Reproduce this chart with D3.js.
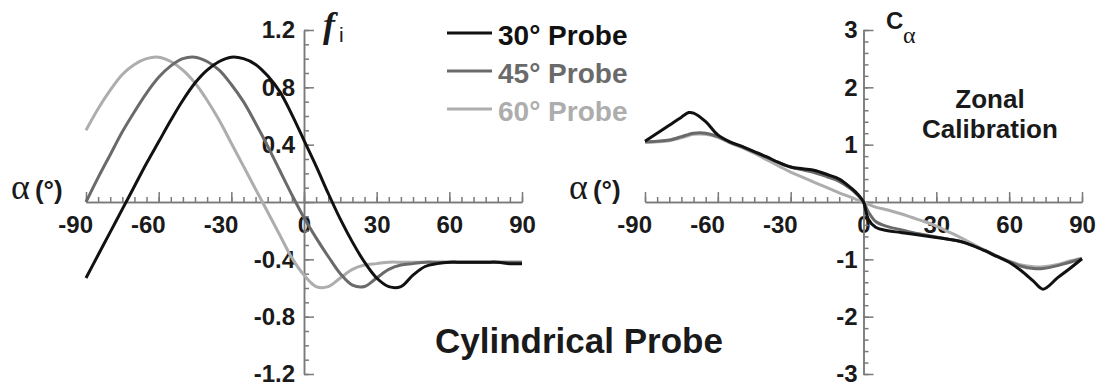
<!DOCTYPE html>
<html>
<head>
<meta charset="utf-8">
<script src="https://cdn.jsdelivr.net/npm/d3@7"></script>
<style>
  html, body { margin: 0; padding: 0; background: #fff; }
  svg { display: block; }
</style>
</head>
<body>
<script>
// -------------------- DATA --------------------
// left panel: f_i vs alpha (deg)
var alphaF = [-90,-85,-80,-75,-70,-65,-60,-55,-50,-45,-40,-35,-30,-25,-20,-15,-10,-5,0,
              5,10,15,20,25,30,35,40,45,50,55,60,65,70,75,80,85,90];
var f30 = [-0.53,-0.37,-0.21,-0.05,0.11,0.27,0.42,0.57,0.71,0.83,0.92,0.98,1.01,1.00,0.96,0.88,0.77,0.61,0.43,
           0.25,0.06,-0.12,-0.28,-0.42,-0.53,-0.59,-0.59,-0.51,-0.45,-0.43,-0.42,-0.42,-0.42,-0.42,-0.42,-0.43,-0.43];
var f45 = [0.00,0.17,0.33,0.49,0.63,0.76,0.87,0.95,1.00,1.01,0.98,0.92,0.82,0.70,0.55,0.39,0.22,0.05,-0.11,
           -0.25,-0.38,-0.50,-0.58,-0.59,-0.53,-0.47,-0.44,-0.43,-0.42,-0.42,-0.42,-0.42,-0.42,-0.42,-0.42,-0.42,-0.42];
var f60 = [0.50,0.65,0.78,0.89,0.96,1.00,1.01,0.98,0.92,0.83,0.71,0.57,0.41,0.25,0.09,-0.07,-0.23,-0.39,-0.51,
           -0.59,-0.59,-0.53,-0.47,-0.44,-0.43,-0.42,-0.42,-0.42,-0.42,-0.42,-0.42,-0.42,-0.42,-0.42,-0.42,-0.42,-0.42];

// right panel: C_alpha vs alpha (deg)
var alphaC = [-90,-85,-80,-75,-72,-70,-65,-60,-55,-50,-45,-40,-35,-30,-25,-20,-15,-10,-5,-2,0,
              2,5,10,15,20,25,30,35,40,45,50,55,60,65,70,74,80,85,90];
var c30 = [1.06,1.20,1.34,1.48,1.56,1.55,1.40,1.17,1.05,0.97,0.88,0.79,0.69,0.61,0.58,0.55,0.48,0.40,0.24,0.12,0.00,
           -0.30,-0.44,-0.50,-0.53,-0.56,-0.59,-0.62,-0.65,-0.69,-0.76,-0.85,-0.95,-1.05,-1.20,-1.38,-1.52,-1.32,-1.16,-0.99];
var c45 = [1.05,1.06,1.08,1.14,1.18,1.20,1.20,1.14,1.04,0.96,0.87,0.78,0.69,0.61,0.56,0.51,0.44,0.36,0.22,0.10,0.00,
           -0.17,-0.34,-0.43,-0.48,-0.53,-0.57,-0.61,-0.65,-0.69,-0.76,-0.85,-0.95,-1.04,-1.12,-1.16,-1.16,-1.11,-1.05,-0.99];
var c60 = [1.04,1.05,1.07,1.12,1.16,1.18,1.18,1.13,1.03,0.95,0.85,0.74,0.63,0.52,0.43,0.34,0.25,0.16,0.08,0.03,0.00,
           -0.04,-0.09,-0.14,-0.20,-0.27,-0.34,-0.42,-0.52,-0.62,-0.73,-0.84,-0.94,-1.03,-1.10,-1.13,-1.13,-1.09,-1.03,-0.98];

var probeNames = ["30°", "45°", "60°"];

var xTicks = [-90, -60, -30, 0, 30, 60, 90];
var fTicks = [-1.2, -0.8, -0.4, 0.4, 0.8, 1.2];
var cTicks = [-3, -2, -1, 1, 2, 3];

// -------------------- STYLE --------------------
var probeColors = ["#111111", "#6a6a6a", "#adadad"];
var axisColor = "#7a7a7a";
var textColor = "#1a1a1a";
var sans = "'Liberation Sans', Arial, sans-serif";
var serif = "'Liberation Serif', 'Times New Roman', serif";

// -------------------- SVG --------------------
var w = 1099, h = 387;
var svg = d3.select("body").append("svg")
  .attr("width", w)
  .attr("height", h);

svg.append("rect").attr("width", w).attr("height", h).attr("fill", "#fff");

// -------------------- SCALES --------------------
var xL = d3.scaleLinear().domain([-90, 90]).range([86, 522]);
var yL = d3.scaleLinear().domain([-1.2, 1.2]).range([374, 30]);
var xR = d3.scaleLinear().domain([-90, 90]).range([645, 1082]);
var yR = d3.scaleLinear().domain([-3, 3]).range([374, 30]);

// -------------------- AXES --------------------
function styleAxis(g) {
  g.selectAll(".domain, line")
    .attr("stroke", axisColor)
    .attr("stroke-width", 1.5);
  g.selectAll("text")
    .attr("fill", textColor)
    .style("font-family", sans)
    .style("font-weight", "bold")
    .style("font-size", "24px");
}

function drawAxes(x, y, yTicks, yMinor, yPad) {
  var x0 = x(0), y0 = y(0);

  // x minor ticks (every 5 deg), pointing up
  svg.append("g")
    .attr("transform", "translate(0," + y0 + ")")
    .call(d3.axisBottom(x).tickValues(d3.range(-90, 91, 5)).tickSize(-5).tickSizeOuter(0).tickFormat(""))
    .call(styleAxis);

  // x major ticks + labels
  var gx = svg.append("g")
    .attr("transform", "translate(0," + y0 + ")")
    .call(d3.axisBottom(x).tickValues(xTicks).tickSize(-10).tickSizeOuter(0).tickPadding(14)
      .tickFormat(function(d){ return String(d); }))
    .call(styleAxis);
  // negative labels hang to the left like the original
  gx.selectAll(".tick text")
    .filter(function(d){ return d < 0; })
    .attr("text-anchor", "end")
    .attr("x", 6.5);

  // y minor ticks, pointing right
  svg.append("g")
    .attr("transform", "translate(" + x0 + ",0)")
    .call(d3.axisLeft(y).tickValues(yMinor).tickSize(-5).tickSizeOuter(0).tickFormat(""))
    .call(styleAxis);

  // y major ticks + labels
  svg.append("g")
    .attr("transform", "translate(" + x0 + ",0)")
    .call(d3.axisLeft(y).tickValues(yTicks.concat([0])).tickSize(-10).tickSizeOuter(0).tickPadding(yPad)
      .tickFormat(function(d){ return d === 0 ? "" : String(d); }))
    .call(styleAxis);
}

drawAxes(xL, yL, fTicks, d3.range(-12, 13, 1).map(function(k){ return k / 10; }), 9);
drawAxes(xR, yR, cTicks, d3.range(-15, 16, 1).map(function(k){ return k / 5; }), 6);

// -------------------- CURVES --------------------
function drawSeries(x, y, alphas, values, color) {
  var line = d3.line()
    .x(function(d){ return x(d[0]); })
    .y(function(d){ return y(d[1]); })
    .curve(d3.curveCatmullRom.alpha(0.5));
  svg.append("path")
    .datum(d3.zip(alphas, values))
    .attr("d", line)
    .attr("fill", "none")
    .attr("stroke", color)
    .attr("stroke-width", 3)
    .attr("stroke-linejoin", "round");
}

// light first so the black curve sits on top
var fSeries = [f30, f45, f60];
var cSeries = [c30, c45, c60];
for (var i = 2; i >= 0; i--) {
  drawSeries(xL, yL, alphaF, fSeries[i], probeColors[i]);
  drawSeries(xR, yR, alphaC, cSeries[i], probeColors[i]);
}

// -------------------- LEGEND --------------------
var legend = svg.append("g");
probeNames.forEach(function(name, i) {
  var yy = 33 + i * 38;
  legend.append("line")
    .attr("x1", 447).attr("x2", 492)
    .attr("y1", yy).attr("y2", yy)
    .attr("stroke", probeColors[i])
    .attr("stroke-width", 3);
  legend.append("text")
    .attr("x", 498)
    .attr("y", yy + 12)
    .attr("fill", probeColors[i])
    .style("font-family", sans)
    .style("font-weight", "bold")
    .style("font-size", "28px")
    .text(name + " Probe");
});

// -------------------- LABELS --------------------
function alphaLabel(xPos) {
  var t = svg.append("text")
    .attr("x", xPos)
    .attr("y", 199)
    .attr("fill", textColor);
  t.append("tspan")
    .style("font-family", serif)
    .style("font-size", "36px")
    .text("α");
  t.append("tspan")
    .attr("dx", 5)
    .style("font-family", sans)
    .style("font-weight", "bold")
    .style("font-size", "26px")
    .text("(°)");
}
alphaLabel(11);
alphaLabel(569);

// f_i
var fl = svg.append("text")
  .attr("x", 323)
  .attr("y", 37)
  .attr("fill", textColor);
fl.append("tspan")
  .style("font-family", serif)
  .style("font-style", "italic")
  .style("font-weight", "bold")
  .style("font-size", "36px")
  .text("f");
fl.append("tspan")
  .attr("dx", 4)
  .attr("dy", 5)
  .style("font-family", sans)
  .style("font-size", "21px")
  .text("i");

// C_alpha
svg.append("text")
  .attr("x", 886)
  .attr("y", 29)
  .attr("fill", textColor)
  .style("font-family", sans)
  .style("font-weight", "bold")
  .style("font-size", "24px")
  .text("C");
svg.append("text")
  .attr("x", 903)
  .attr("y", 43)
  .attr("fill", textColor)
  .style("font-family", serif)
  .style("font-size", "24px")
  .text("α");

svg.append("text")
  .attr("x", 990).attr("y", 108)
  .attr("text-anchor", "middle")
  .attr("fill", textColor)
  .style("font-family", sans).style("font-weight", "bold").style("font-size", "26px")
  .text("Zonal");
svg.append("text")
  .attr("x", 990).attr("y", 138)
  .attr("text-anchor", "middle")
  .attr("fill", textColor)
  .style("font-family", sans).style("font-weight", "bold").style("font-size", "26px")
  .text("Calibration");

svg.append("text")
  .attr("x", 435).attr("y", 353)
  .attr("fill", textColor)
  .style("font-family", sans).style("font-weight", "bold").style("font-size", "35px")
  .text("Cylindrical Probe");
</script>
</body>
</html>
